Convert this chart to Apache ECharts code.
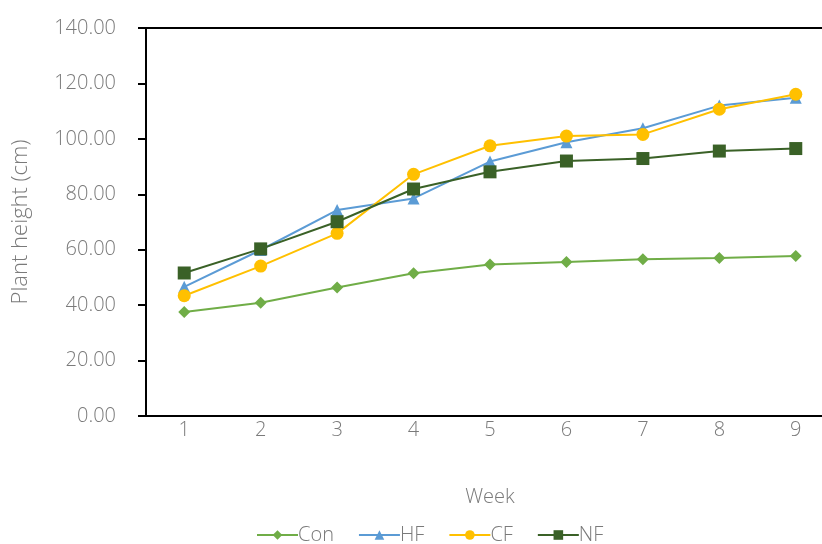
<!DOCTYPE html>
<html><head><meta charset="utf-8">
<script src="https://cdn.jsdelivr.net/npm/echarts@6/dist/echarts.min.js"></script>
<style>html,body{margin:0;padding:0;background:#fff}#c{width:822px;height:544px}</style>
</head><body><div id="c"></div>
<script>
const weeks = ['1','2','3','4','5','6','7','8','9'];
const con = [37.5, 40.9, 46.4, 51.5, 54.7, 55.6, 56.6, 57.0, 57.7];
const hf  = [46.6, 59.9, 74.3, 78.5, 91.8, 98.8, 103.8, 112.0, 114.8];
const cf  = [43.4, 54.1, 65.9, 87.2, 97.5, 101.0, 101.6, 110.7, 116.1];
const nf  = [51.6, 60.3, 70.1, 81.9, 88.1, 92.0, 92.9, 95.6, 96.5];

const font = 'Open Sans';
const txt = '#7a7a7a';
function s(name, data, color, symbol, size) {
  return { name, type: 'line', data, symbol, symbolSize: size,
    lineStyle: { color, width: 2 }, itemStyle: { color }, emphasis: { disabled: true } };
}
const chart = echarts.init(document.getElementById('c'));
chart.setOption({
  animation: false,
  grid: { left: 146, width: 688, top: 28, height: 388, show: true, borderColor: '#000', borderWidth: 2,
    outerBoundsMode: 'none', containLabel: false },
  xAxis: {
    type: 'category', data: weeks, boundaryGap: true,
    name: 'Week', nameLocation: 'middle', nameGap: 71,
    nameTextStyle: { color: txt, fontSize: 20, fontFamily: font, fontWeight: 300 },
    axisLine: { lineStyle: { color: '#000', width: 2 } },
    axisTick: { show: false },
    axisLabel: { color: txt, fontSize: 20, fontFamily: font, fontWeight: 300, margin: 4 }
  },
  yAxis: {
    type: 'value', min: 0, max: 140, interval: 20,
    name: 'Plant height (cm)', nameLocation: 'middle', nameGap: 114, nameRotate: 90,
    nameTextStyle: { color: txt, fontSize: 22, fontFamily: font, fontWeight: 300 },
    axisLine: { show: true, lineStyle: { color: '#000', width: 2 } },
    axisTick: { show: true, length: 8, lineStyle: { color: '#000', width: 2 } },
    splitLine: { show: false },
    axisLabel: { color: txt, fontSize: 20, fontFamily: font, fontWeight: 300, margin: 30,
      formatter: v => v.toFixed(2) }
  },
  legend: {
    top: 525, left: 256, itemWidth: 41, itemHeight: 12, itemGap: 24, padding: 0,
    textStyle: { color: txt, fontSize: 20, fontFamily: font, fontWeight: 300, padding: [0,0,0,-5] },
    data: ['Con','HF','CF','NF']
  },
  series: [
    s('Con', con, '#70AD47', 'diamond', 12),
    s('HF', hf, '#5B9BD5', 'triangle', 12),
    s('CF', cf, '#FFC000', 'circle', 13),
    s('NF', nf, '#3A6127', 'rect', 13)
  ]
});
</script></body></html>
